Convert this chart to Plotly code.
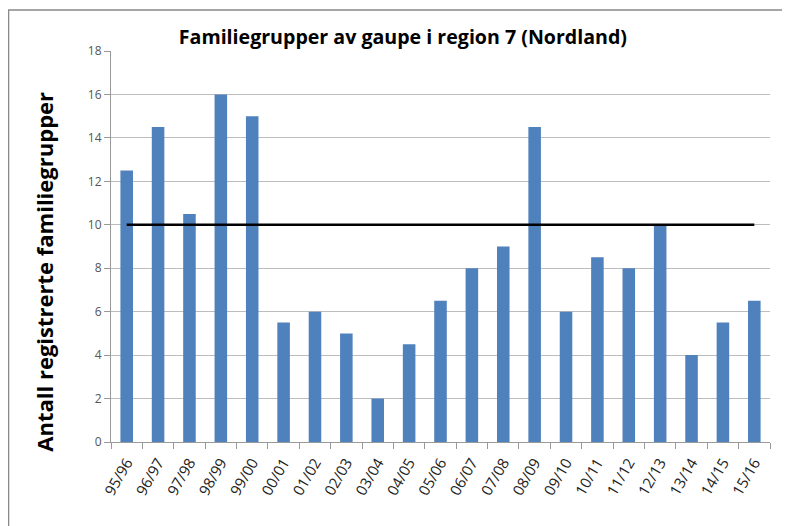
import plotly.graph_objects as go

seasons = ["95/96", "96/97", "97/98", "98/99", "99/00", "00/01", "01/02", "02/03", "03/04",
           "04/05", "05/06", "06/07", "07/08", "08/09", "09/10", "10/11", "11/12", "12/13",
           "13/14", "14/15", "15/16"]
familiegrupper = [12.5, 14.5, 10.5, 16, 15, 5.5, 6, 5, 2, 4.5, 6.5, 8, 9, 14.5, 6, 8.5, 8, 10, 4, 5.5, 6.5]
bestandsmaal = [10] * len(seasons)
y_ticks = [0, 2, 4, 6, 8, 10, 12, 14, 16, 18]

fig = go.Figure()
fig.add_trace(go.Bar(x=seasons, y=familiegrupper, marker=dict(color="#4F81BD", line=dict(width=0)),
                     width=0.4, showlegend=False))
fig.add_trace(go.Scatter(x=seasons, y=bestandsmaal, mode="lines",
                         line=dict(color="black", width=2.5), showlegend=False))

fig.update_layout(
    width=782, height=518,
    margin=dict(l=103, r=20, t=43, b=84),
    paper_bgcolor="white", plot_bgcolor="white",
    title=dict(text="<b>Familiegrupper av gaupe i region 7 (Nordland)</b>",
               x=0.505, xanchor="center", y=0.944, yanchor="middle",
               font=dict(family="Open Sans", size=19.6, color="black")),
    xaxis=dict(tickangle=-60, tickfont=dict(family="Open Sans", size=15, color="#222"),
               ticks="outside", tickson="boundaries", ticklen=6, tickcolor="#999",
               ticklabelstandoff=5,
               showline=True, linecolor="#999", linewidth=1, showgrid=False, automargin=False),
    yaxis=dict(range=[0, 18], tickvals=y_ticks, tickfont=dict(family="Open Sans", size=12, color="#555"),
               ticks="outside", ticklen=6, tickcolor="#999",
               showline=True, linecolor="#999", linewidth=1,
               showgrid=True, gridcolor="#BDBDBD", gridwidth=1, automargin=False),
    annotations=[dict(text="<b>Antall registrerte familiegrupper</b>", xref="paper", yref="paper",
                      x=-0.102, y=0.435, xanchor="center", yanchor="middle", textangle=-90,
                      showarrow=False, font=dict(family="Open Sans", size=22, color="black"))],
    shapes=[dict(type="rect", xref="paper", yref="paper", x0=-0.1555, x1=1.1, y0=-0.3, y1=1.105,
                 line=dict(color="#888", width=1.5), fillcolor="rgba(0,0,0,0)", layer="below")],
)

fig.write_html("out.html")
